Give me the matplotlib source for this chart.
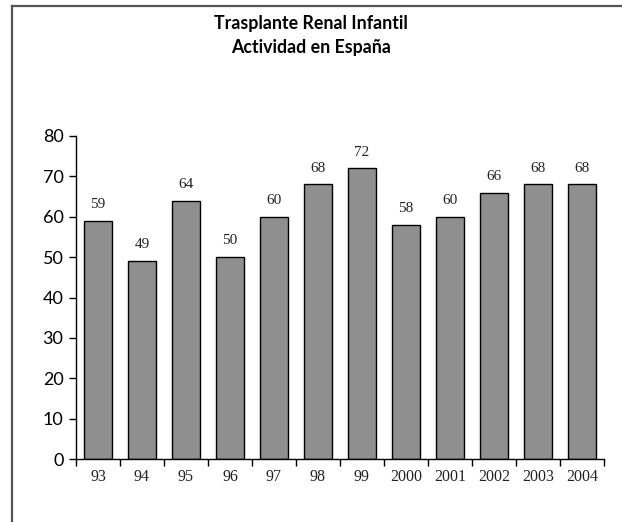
import matplotlib
matplotlib.use("Agg")
import matplotlib.pyplot as plt
from matplotlib.lines import Line2D
import numpy as np

categories = ["93", "94", "95", "96", "97", "98", "99", "2000", "2001", "2002", "2003", "2004"]
values = [59, 49, 64, 50, 60, 68, 72, 58, 60, 66, 68, 68]
title_lines = ["Trasplante Renal Infantil", "Actividad en España"]
yticks = [0, 10, 20, 30, 40, 50, 60, 70, 80]

fig = plt.figure(figsize=(6.22, 5.22), dpi=100)
ax = fig.add_axes([76/622, 63/522, (604-76)/622, (459-136)/522])

x = np.arange(len(categories))
ax.bar(x, values, width=0.62, color="#8f8f8f", edgecolor="black", linewidth=1.0, zorder=2)

for xi, v in zip(x, values):
    ax.annotate(str(v), (xi, v), xytext=(0, 7), textcoords="offset points",
                ha="center", va="bottom", fontsize=11, family="Liberation Serif", color="#222222")

ax.set_xlim(-0.5, len(categories) - 0.5)
ax.set_ylim(0, 80)
ax.set_yticks(yticks)
ax.set_yticklabels([str(t) for t in yticks], fontsize=13, family="Lato")

ax.set_xticks(np.arange(-0.5, len(categories), 1.0))
ax.set_xticklabels([])
ax.set_xticks(x, minor=True)
ax.set_xticklabels(categories, minor=True, fontsize=11.5, family="Liberation Serif", color="#222222")
ax.tick_params(axis="x", which="major", length=5, width=1, direction="out")
ax.tick_params(axis="x", which="minor", length=0, pad=7)
ax.tick_params(axis="y", length=5, width=1, direction="out", pad=4)

for s in ["top", "right"]:
    ax.spines[s].set_visible(False)
for s in ["left", "bottom"]:
    ax.spines[s].set_linewidth(1.0)

fig.text(0.5, 1 - 24/522, title_lines[0], ha="center", va="center",
         fontsize=12.8, fontweight="bold", family="Lato")
fig.text(0.5, 1 - 47/522, title_lines[1], ha="center", va="center",
         fontsize=12.8, fontweight="bold", family="Lato")

# figure frame (top and left edges)
fig.add_artist(Line2D([12/622, 12/622], [0, 1 - 5.5/522], transform=fig.transFigure,
                      color="#555555", linewidth=1.6))
fig.add_artist(Line2D([12/622, 1], [1 - 5.5/522, 1 - 5.5/522], transform=fig.transFigure,
                      color="#555555", linewidth=1.6))

fig.savefig("out.png", dpi=100)
